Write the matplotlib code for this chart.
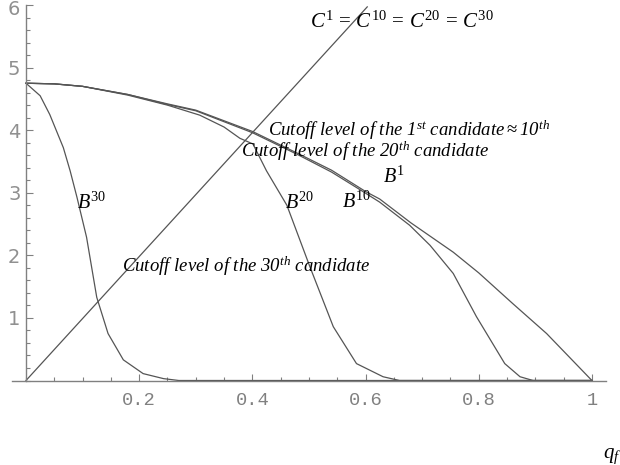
import matplotlib
matplotlib.use('Agg')
import matplotlib.pyplot as plt
import matplotlib.transforms as mtransforms
from matplotlib.ticker import MultipleLocator, FixedLocator

# values
q_c = [0.0, 0.603]
c_line = [0.0, 5.97]

q_b1 = [0, 0.05, 0.1, 0.18, 0.25, 0.3, 0.4, 0.48, 0.54, 0.6, 0.625, 0.68,
        0.755, 0.8, 0.86, 0.92, 1.0]
b1 = [4.75, 4.74, 4.70, 4.57, 4.42, 4.32, 3.98, 3.63, 3.36, 3.02, 2.90, 2.52,
      2.05, 1.72, 1.23, 0.75, 0.0]

q_b10 = [0, 0.05, 0.1, 0.18, 0.25, 0.3, 0.4, 0.48, 0.54, 0.59, 0.625, 0.678,
         0.714, 0.755, 0.796, 0.846, 0.873, 0.896, 1.0]
b10 = [4.75, 4.74, 4.70, 4.57, 4.41, 4.31, 3.96, 3.61, 3.33, 3.05, 2.85, 2.48,
       2.16, 1.71, 1.02, 0.27, 0.06, 0.0, 0.0]

q_b20 = [0, 0.05, 0.1, 0.18, 0.25, 0.307, 0.35, 0.378, 0.401, 0.425, 0.461,
         0.502, 0.543, 0.584, 0.631, 0.66, 1.0]
b20 = [4.75, 4.74, 4.70, 4.56, 4.40, 4.24, 4.05, 3.87, 3.78, 3.35, 2.80,
       1.81, 0.86, 0.27, 0.06, 0.0, 0.0]

q_b30 = [0, 0.025, 0.042, 0.066, 0.078, 0.09, 0.107, 0.125, 0.145, 0.172,
         0.207, 0.243, 0.27, 1.0]
b30 = [4.75, 4.55, 4.25, 3.72, 3.35, 2.93, 2.29, 1.33, 0.75, 0.33, 0.11,
       0.03, 0.0, 0.0]

x_ticks = [0.2, 0.4, 0.6, 0.8, 1.0]
x_tick_labels = ['0.2', '0.4', '0.6', '0.8', '1']
y_ticks = [1, 2, 3, 4, 5, 6]

plt.rcParams['mathtext.fontset'] = 'custom'
plt.rcParams['mathtext.rm'] = 'Liberation Serif'
plt.rcParams['mathtext.it'] = 'Liberation Serif:italic'
plt.rcParams['mathtext.bf'] = 'Liberation Serif:bold'

fig = plt.figure(figsize=(6.2, 4.65), dpi=100)
ax = fig.add_axes([11.85 / 620, 84.5 / 465, 594.2 / 620, 375.5 / 465])
ax.set_xlim(-0.025, 1.025)
ax.set_ylim(0, 6.0)

line_col = '#555555'
lw = 0.9
ax.plot(q_c, c_line, color=line_col, lw=lw)
ax.plot(q_b1, b1, color=line_col, lw=lw)
ax.plot(q_b10, b10, color=line_col, lw=lw)
ax.plot(q_b20, b20, color=line_col, lw=lw)
ax.plot(q_b30, b30, color=line_col, lw=lw)

# Mathematica-like axes crossing at the origin
for s in ['top', 'right']:
    ax.spines[s].set_visible(False)
ax.spines['left'].set_position(('data', 0))
ax.spines['bottom'].set_position(('data', 0))
for s in ['left', 'bottom']:
    ax.spines[s].set_color('#808080')
    ax.spines[s].set_linewidth(1.0)

ax.xaxis.set_major_locator(FixedLocator(x_ticks))
ax.xaxis.set_minor_locator(MultipleLocator(0.05))
ax.set_xticklabels(x_tick_labels, family='Liberation Mono', fontsize=13.5,
                   color='#808080')
ax.yaxis.set_major_locator(FixedLocator(y_ticks))
ax.yaxis.set_minor_locator(MultipleLocator(0.2))
ax.set_yticklabels([str(v) for v in y_ticks], family='DejaVu Sans',
                   fontsize=14, color='#909090')
ax.tick_params(axis='x', which='major', direction='in', length=5,
               width=0.8, color='#808080', pad=8)
ax.tick_params(axis='x', which='minor', direction='in', length=3,
               width=0.8, color='#808080')
ax.tick_params(axis='y', which='major', direction='in', length=5,
               width=0.8, color='#808080', pad=4)
ax.tick_params(axis='y', which='minor', direction='in', length=3,
               width=0.8, color='#808080')

# nudge the top label "6" down a little so it is not clipped
top_lab = ax.get_yticklabels()[-1]
top_lab.set_transform(top_lab.get_transform() +
                      mtransforms.ScaledTranslation(0, -2 / 72, fig.dpi_scale_trans))

serif = 'Liberation Serif'
ax.text(0.502, 5.74, r'$C^{1}\,=\,C^{10}\,=\,C^{20}\,=\,C^{30}$', fontsize=15,
        va='center', ha='left')
ax.text(0.428, 3.99,
        r'Cutoff level of the 1$^{st}$ candidate$\approx$10$^{th}$',
        family=serif, style='italic', fontsize=13.5, va='center', ha='left')
ax.text(0.380, 3.67, r'Cutoff level of the 20$^{th}$ candidate',
        family=serif, style='italic', fontsize=13.5, va='center', ha='left')
ax.text(0.170, 1.82, r'Cutoff level of the 30$^{th}$ candidate',
        family=serif, style='italic', fontsize=13.5, va='center', ha='left')
ax.text(0.631, 3.27, r'$B^{1}$', fontsize=14.5, va='center', ha='left')
ax.text(0.558, 2.87, r'$B^{10}$', fontsize=14.5, va='center', ha='left')
ax.text(0.458, 2.85, r'$B^{20}$', fontsize=14.5, va='center', ha='left')
ax.text(0.090, 2.85, r'$B^{30}$', fontsize=14.5, va='center', ha='left')

fig.text(603 / 620, 1 - 456 / 465, r'$q_f$', fontsize=15, va='center',
         ha='left')

fig.savefig('out.png', dpi=100)
